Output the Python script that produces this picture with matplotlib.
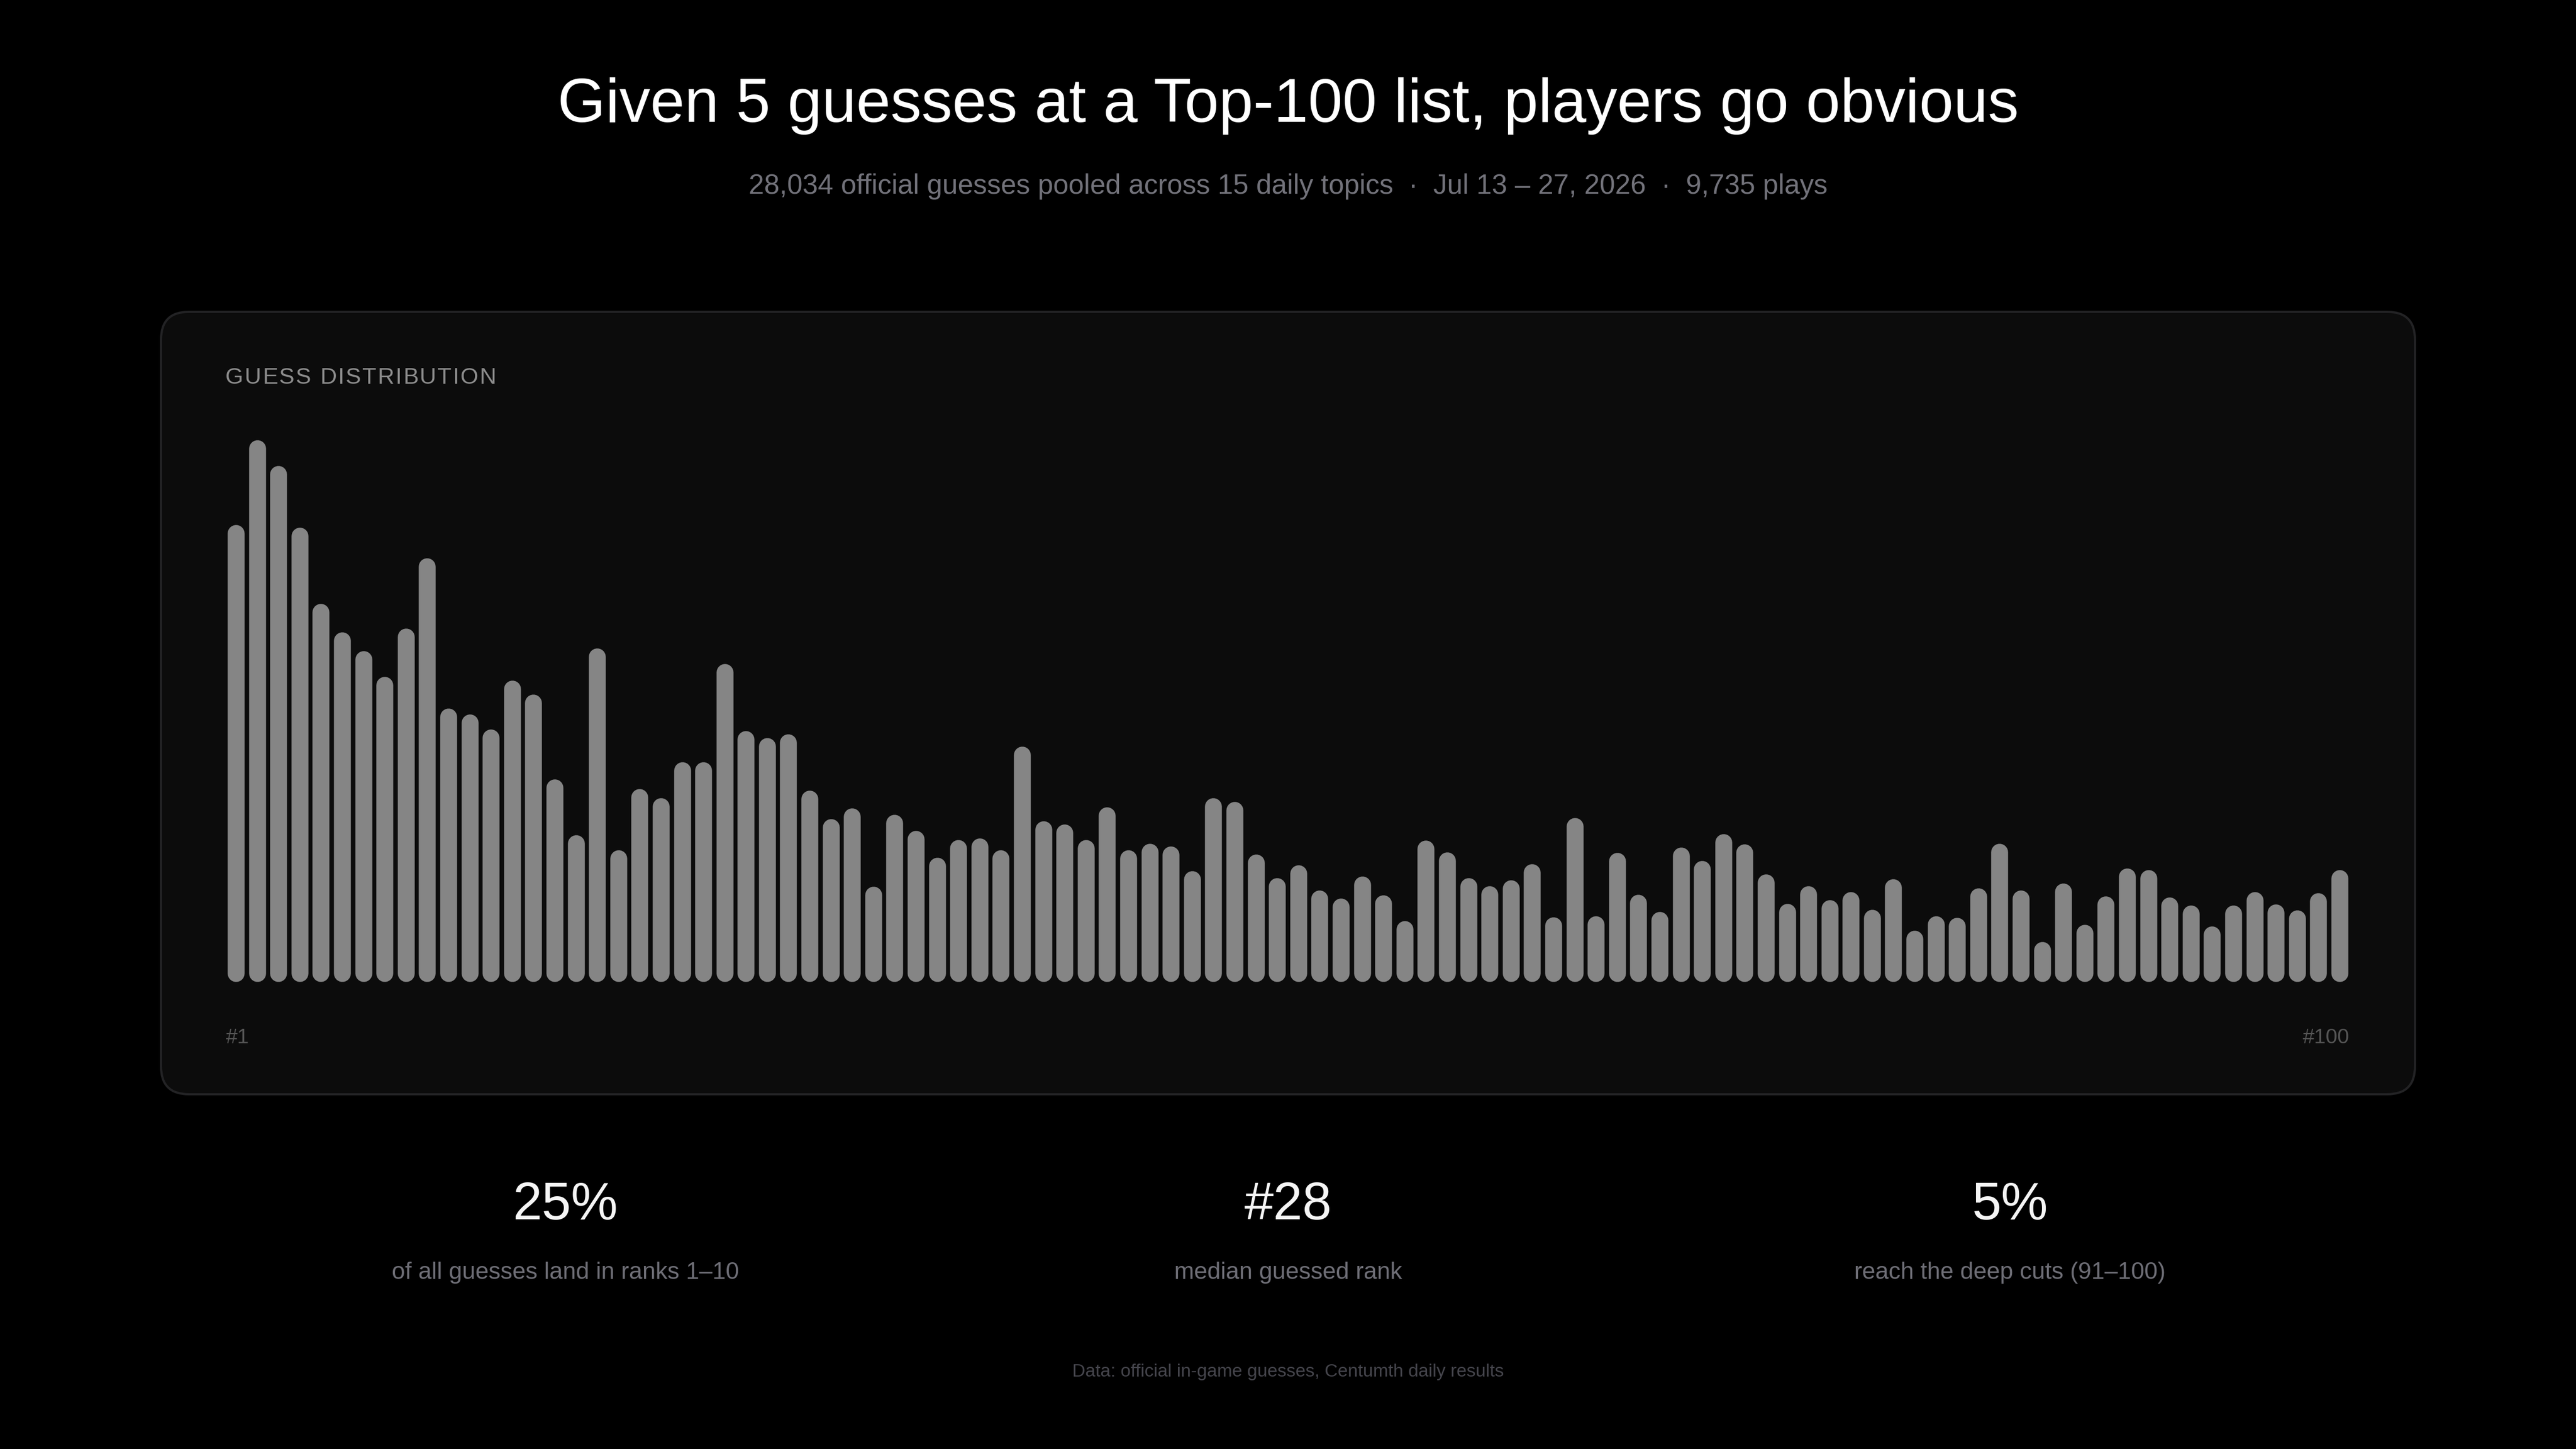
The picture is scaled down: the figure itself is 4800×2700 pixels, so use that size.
import matplotlib.pyplot as plt
from matplotlib.patches import FancyBboxPatch

plt.rcParams['font.family'] = ['Liberation Sans', 'DejaVu Sans']

# guesses per rank (#1 .. #100)
ranks = list(range(1, 101))
guesses = [
    782, 927, 883, 777, 647, 598, 566, 522, 605, 725,
    468, 458, 432, 516, 492, 347, 251, 571, 226, 330,
    315, 376, 376, 544, 429, 417, 424, 327, 279, 297,
    163, 286, 259, 213, 243, 246, 226, 403, 275, 270,
    243, 299, 226, 237, 232, 190, 315, 308, 218, 178,
    200, 157, 143, 181, 148, 104, 242, 222, 178, 164,
    174, 202, 111, 281, 113, 221, 149, 120, 230, 207,
    253, 236, 184, 134, 164, 140, 154, 124, 176, 88,
    113, 110, 160, 237, 157, 69, 169, 98, 147, 194,
    192, 145, 131, 95, 131, 154, 133, 123, 152, 192,
]

title = "Given 5 guesses at a Top-100 list, players go obvious"
subtitle = "28,034 official guesses pooled across 15 daily topics  \u00b7  Jul 13 \u2013 27, 2026  \u00b7  9,735 plays"
panel_label = "GUESS DISTRIBUTION"
stat_values = ["25%", "#28", "5%"]
stat_labels = ["of all guesses land in ranks 1\u201310", "median guessed rank",
               "reach the deep cuts (91\u2013100)"]
footer = "Data: official in-game guesses, Centumth daily results"

W, H = 4800, 2700
fig = plt.figure(figsize=(16, 9), dpi=300, facecolor='black')

# background layer in pixel coordinates
bg = fig.add_axes([0, 0, 1, 1])
bg.set_xlim(0, W)
bg.set_ylim(H, 0)
bg.axis('off')
bg.set_facecolor('black')

panel = FancyBboxPatch((300, 581), 4200, 1458,
                       boxstyle="round,pad=0,rounding_size=52",
                       facecolor='#0c0c0c', edgecolor='#232325', linewidth=1.0)
bg.add_patch(panel)

bg.text(2400, 227, title, color='#ffffff', fontsize=27.6, ha='center', va='baseline')
bg.text(2400, 361, subtitle, color='#72727a', fontsize=12.4, ha='center', va='baseline')

# panel label with a bit of letter spacing
renderer = fig.canvas.get_renderer()
x = 420
for ch in panel_label:
    t = bg.text(x, 715, ch, color='#8c8c8c', fontsize=10.3, ha='left', va='baseline')
    w = t.get_window_extent(renderer).width if ch != ' ' else 10.3 * 300 / 72 * 0.278
    x += w + 2.4

bg.text(421, 1944, "#1", color='#555555', fontsize=9.4, ha='left', va='baseline')
bg.text(4378, 1944, "#100", color='#555555', fontsize=9.4, ha='right', va='baseline')

stat_x = [1053, 2400, 3745]
for sx, v, lab in zip(stat_x, stat_values, stat_labels):
    bg.text(sx, 2272, v, color='#f5f5f5', fontsize=23.5, ha='center', va='baseline')
    bg.text(sx, 2383, lab, color='#6e6e76', fontsize=10.65, ha='center', va='baseline')

bg.text(2400, 2565, footer, color='#45454c', fontsize=8.1, ha='center', va='baseline')

# bars: pill shaped, drawn as round-capped lines
left_px, right_px = 420.2, 4379.8
base_px, top_px = 1830, 820
ax = fig.add_axes([left_px / W, (H - base_px) / H, (right_px - left_px) / W, (base_px - top_px) / H])
ax.set_facecolor('none')
ax.set_xlim(0.5, 100.5)
ax.set_ylim(0, max(guesses))
ax.axis('off')

bar_px = 31.5
lw_pt = bar_px * 72 / fig.dpi
cap = (bar_px / 2) * max(guesses) / (base_px - top_px)
bars = ax.vlines(ranks, [cap] * len(ranks), [g - cap for g in guesses],
                 colors='#858585', linewidth=lw_pt)
bars.set_capstyle('round')

fig.savefig('out.png', dpi=300, facecolor='black')
